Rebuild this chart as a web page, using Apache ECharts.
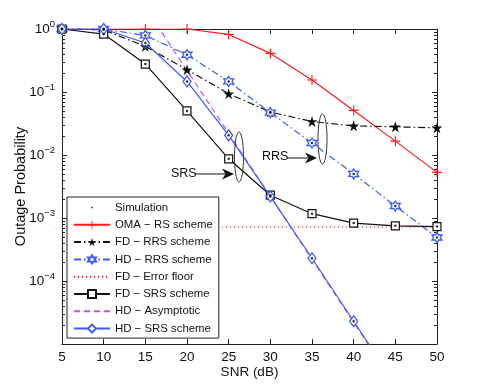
<!DOCTYPE html>
<html>
<head>
<meta charset="utf-8">
<script src="https://cdn.jsdelivr.net/npm/echarts@6/dist/echarts.min.js"></script>
<style>
  html, body { margin: 0; padding: 0; background: #fff; }
  #container { width: 482px; height: 388px; }
</style>
</head>
<body>
<div id="container"></div>
<script>
// SNR points (dB)
const snr = [5, 10, 15, 20, 25, 30, 35, 40, 45, 50];
const omaRS = [1, 1, 1, 1, 0.82, 0.41, 0.155, 0.051, 0.0166, 0.0053];
const fdRRS = [1, 0.97, 0.53, 0.226, 0.094, 0.048, 0.034, 0.029, 0.028, 0.027];
const hdRRS = [1, 1, 0.79, 0.39, 0.147, 0.047, 0.0155, 0.005, 0.00155, 0.00049];
const fdSRS = [1, 0.83, 0.278, 0.05, 0.0087, 0.0023, 0.00117, 0.00083, 0.00075, 0.00073];
const hdSRS = [1, 1, 0.6, 0.147, 0.0205, 0.0022, 0.00023, 0.000023, 0.0000023];
const floorSnr = [5, 50];
const fdFloor = [0.00072, 0.00072];
const asymSnr = [15, 20, 25, 30, 35, 40, 45];
const hdAsym = [2.2, 0.22, 0.022, 0.0022, 0.00022, 0.000022, 0.0000022];

const FONT = "Liberation Sans";
const RED = "#ff1a1a";
const BLUE = "#3b5bff";
const MAGENTA = "#c84cf0";

const pts = (xs, ys) => ys.map((v, i) => [xs[i], v]);

// simulation dots sit inside the markers of the simulated curves
const simulation = []
  .concat(pts(snr, fdRRS), pts(snr, hdRRS), pts(snr, fdSRS), pts(snr, hdSRS))
  .filter((p) => p[1] >= 1e-5 && p[1] <= 1);

const plusPath = "path://M4.45,0H5.55V4.45H10V5.55H5.55V10H4.45V5.55H0V4.45H4.45Z";
const starPath = "path://M5,0L6.12,3.46L9.76,3.46L6.82,5.59L7.94,9.05L5,6.91L2.06,9.05L3.18,5.59L0.24,3.46L3.88,3.46Z";
const hexPath = "path://M5,0L6.44,2.5L9.33,2.5L7.89,5L9.33,7.5L6.44,7.5L5,10L3.56,7.5L0.67,7.5L2.11,5L0.67,2.5L3.56,2.5Z";
const dotIcon = "path://M0,0L0,0M10,10L10,10M4.2,4.2H5.8V5.8H4.2Z";

const dom = document.getElementById("container");
const myChart = echarts.init(dom, null, { renderer: "canvas" });

const expLabel = (value) => {
  const e = Math.round(Math.log10(value));
  if (e < -4) return "";
  return "{b|10}{e|" + (e === 0 ? "0" : "\u2212" + -e) + "}";
};

const option = {
  animation: false,
  backgroundColor: "#fff",
  textStyle: { fontFamily: FONT },
  grid: { left: 62, right: 45, top: 29, bottom: 44, outerBoundsMode: "none" },
  legend: {
    orient: "vertical",
    left: 67,
    top: 197,
    width: 152,
    padding: [5, 6, 4, 6],
    itemWidth: 36,
    itemHeight: 10,
    itemGap: 6.3,
    backgroundColor: "#fff",
    borderColor: "#222",
    borderWidth: 1,
    borderRadius: 0,
    textStyle: { fontFamily: FONT, fontSize: 11.4, color: "#111" },
    data: [
      { name: "Simulation", icon: dotIcon },
      "OMA \u2212 RS scheme",
      "FD \u2212 RRS scheme",
      "HD \u2212 RRS scheme",
      "FD \u2212 Error floor",
      "FD \u2212 SRS scheme",
      "HD \u2212 Asymptotic",
      "HD \u2212 SRS scheme",
    ],
  },
  xAxis: [
    {
      type: "value",
      min: 5,
      max: 50,
      interval: 5,
      name: "SNR (dB)",
      nameLocation: "middle",
      nameGap: 21,
      nameMoveOverlap: false,
      nameTextStyle: { fontFamily: FONT, fontSize: 13.5, color: "#111" },
      axisLine: { lineStyle: { color: "#222" } },
      axisTick: { inside: true, length: 5, lineStyle: { color: "#222" } },
      axisLabel: { fontFamily: FONT, fontSize: 13.5, color: "#111", margin: 6 },
      splitLine: { show: false },
    },
    {
      type: "value",
      position: "top",
      min: 5,
      max: 50,
      interval: 5,
      axisLine: { lineStyle: { color: "#222" } },
      axisTick: { inside: true, length: 5, lineStyle: { color: "#222" } },
      axisLabel: { show: false },
      splitLine: { show: false },
    },
  ],
  yAxis: [
    {
      type: "log",
      logBase: 10,
      min: 1e-5,
      max: 1,
      name: "Outage Probability",
      nameLocation: "middle",
      nameGap: 34,
      nameMoveOverlap: false,
      nameTextStyle: { fontFamily: FONT, fontSize: 14.5, color: "#111" },
      axisLine: { show: true, lineStyle: { color: "#222" } },
      axisTick: { inside: true, length: 5, lineStyle: { color: "#222" } },
      minorTick: { show: true, splitNumber: 9, length: 3, lineStyle: { color: "#222" } },
      axisLabel: {
        margin: 7,
        formatter: expLabel,
        rich: {
          b: { fontFamily: FONT, fontSize: 13.5, color: "#111" },
          e: { fontFamily: FONT, fontSize: 9.5, color: "#111", padding: [0, 0, 9, 0] },
        },
      },
      splitLine: { show: false },
    },
    {
      type: "log",
      logBase: 10,
      min: 1e-5,
      max: 1,
      position: "right",
      axisLine: { show: true, lineStyle: { color: "#222" } },
      axisTick: { inside: true, length: 5, lineStyle: { color: "#222" } },
      minorTick: { show: true, splitNumber: 9, length: 3, lineStyle: { color: "#222" } },
      axisLabel: { show: false },
      splitLine: { show: false },
    },
  ],
  series: [
    {
      name: "FD \u2212 Error floor",
      type: "line",
      data: pts(floorSnr, fdFloor),
      symbol: "none",
      lineStyle: { color: RED, width: 1, type: [1, 3] },
      itemStyle: { color: RED, opacity: 0 },
      z: 1,
    },
    {
      name: "OMA \u2212 RS scheme",
      type: "line",
      data: pts(snr, omaRS),
      symbol: plusPath,
      symbolSize: 10,
      lineStyle: { color: RED, width: 1.2 },
      itemStyle: { color: RED },
      z: 2,
    },
    {
      name: "FD \u2212 RRS scheme",
      type: "line",
      data: pts(snr, fdRRS),
      symbol: starPath,
      symbolSize: 11,
      lineStyle: { color: "#111", width: 1.2, type: [7, 3, 1.5, 3] },
      itemStyle: { color: "#111" },
      z: 3,
    },
    {
      name: "HD \u2212 RRS scheme",
      type: "line",
      data: pts(snr, hdRRS),
      symbol: hexPath,
      symbolSize: 10,
      lineStyle: { color: BLUE, width: 1.2, type: [7, 3, 1.5, 3] },
      itemStyle: { color: "#fff", borderColor: BLUE, borderWidth: 1.3 },
      z: 3,
    },
    {
      name: "FD \u2212 SRS scheme",
      type: "line",
      data: pts(snr, fdSRS),
      symbol: "rect",
      symbolSize: 8,
      lineStyle: { color: "#111", width: 1.2 },
      itemStyle: { color: "#fff", borderColor: "#111", borderWidth: 1.2 },
      z: 3,
    },
    {
      name: "HD \u2212 Asymptotic",
      type: "line",
      data: pts(asymSnr, hdAsym),
      symbol: "none",
      lineStyle: { color: MAGENTA, width: 1.2, type: [6, 4] },
      itemStyle: { color: MAGENTA, opacity: 0 },
      z: 2,
    },
    {
      name: "HD \u2212 SRS scheme",
      type: "line",
      data: pts(snr, hdSRS),
      symbol: "diamond",
      symbolSize: [8, 11],
      lineStyle: { color: BLUE, width: 1.2 },
      itemStyle: { color: "#fff", borderColor: BLUE, borderWidth: 1.3 },
      z: 4,
    },
    {
      name: "Simulation",
      type: "scatter",
      data: simulation,
      symbol: "circle",
      symbolSize: 2.5,
      itemStyle: { color: "#000" },
      z: 6,
    },
  ],
  graphic: [
    { type: "ellipse", shape: { cx: 239, cy: 157, rx: 4.5, ry: 25 }, style: { fill: "none", stroke: "#333", lineWidth: 1 }, z: 10 },
    { type: "text", style: { text: "SRS", x: 171, y: 174, verticalAlign: "middle", font: "12.5px " + FONT, fill: "#111" }, z: 10 },
    { type: "line", shape: { x1: 195, y1: 174, x2: 227, y2: 174 }, style: { stroke: "#111", lineWidth: 1 }, z: 10 },
    { type: "polygon", shape: { points: [[234, 174], [222, 168.5], [225.5, 174], [222, 179.5]] }, style: { fill: "#111" }, z: 10 },
    { type: "ellipse", shape: { cx: 322.5, cy: 139, rx: 4.5, ry: 25 }, style: { fill: "none", stroke: "#333", lineWidth: 1 }, z: 10 },
    { type: "text", style: { text: "RRS", x: 262, y: 157, verticalAlign: "middle", font: "12.5px " + FONT, fill: "#111" }, z: 10 },
    { type: "line", shape: { x1: 287, y1: 158, x2: 310, y2: 158 }, style: { stroke: "#111", lineWidth: 1 }, z: 10 },
    { type: "polygon", shape: { points: [[317, 158], [305, 152.5], [308.5, 158], [305, 163.5]] }, style: { fill: "#111" }, z: 10 },
  ],
};

myChart.setOption(option);
</script>
</body>
</html>
